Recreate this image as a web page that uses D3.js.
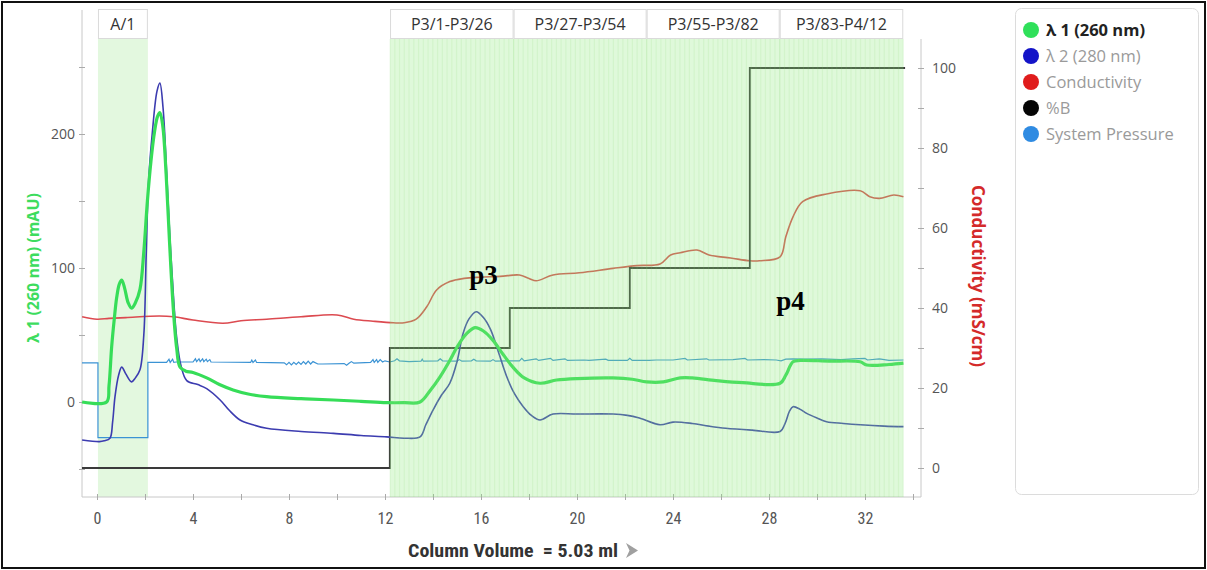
<!DOCTYPE html>
<html>
<head>
<meta charset="utf-8">
<script src="https://cdn.jsdelivr.net/npm/d3@7"></script>
<style>
  html, body { margin: 0; padding: 0; background: #fff; }
  svg { display: block; }
</style>
</head>
<body>
<script>
// ---------- data ----------
// Fraction groups collected during the run (column volumes)
const fractionLabels = ["A/1", "P3/1-P3/26", "P3/27-P3/54", "P3/55-P3/82", "P3/83-P4/12"];
const fractionStart  = [0.04, 12.21, 17.358, 22.902, 28.446];
const fractionEnd    = [2.12, 17.358, 22.902, 28.446, 33.594];
const fractionCount  = [1, 26, 28, 28, 26];

// Axis ticks
const uvTicks   = [-50, 0, 50, 100, 150, 200, 250];
const condTicks = [0, 10, 20, 30, 40, 50, 60, 70, 80, 90, 100];
const cvTicks   = [0, 2, 4, 6, 8, 10, 12, 14, 16, 18, 20, 22, 24, 26, 28, 30, 32, 34];

// λ1 (260 nm), mAU
const uv260 = [
  [-0.62, 0], [0.4, 0], [0.5, 12], [0.61, 41], [0.72, 62], [0.82, 78], [0.93, 88], [1.03, 91],
  [1.15, 85], [1.3, 74], [1.44, 70], [1.6, 74], [1.79, 84], [1.95, 112], [2.1, 150], [2.25, 180],
  [2.4, 202], [2.52, 213], [2.62, 216], [2.74, 206], [2.88, 170], [3.02, 120], [3.17, 72],
  [3.32, 40], [3.46, 26], [3.7, 23], [4.0, 22], [4.57, 18], [5.1, 13], [5.67, 9], [6.3, 6],
  [7.07, 4], [8.5, 2.5], [9.85, 1.5], [11.0, 0.5], [12.07, -0.5], [12.8, -0.5], [13.46, 0],
  [13.9, 9], [14.3, 19], [14.7, 31], [15.0, 41], [15.4, 51], [15.75, 55.5], [16.1, 53],
  [16.5, 46], [16.9, 36], [17.33, 26], [17.8, 18], [18.46, 14], [19.15, 16.4], [20.0, 17.5],
  [21.5, 18], [22.3, 17], [22.9, 15], [23.6, 15], [24.3, 18], [24.8, 18], [25.8, 16],
  [26.9, 14.4], [28.46, 14], [28.7, 20], [29.0, 30], [29.3, 31], [30.5, 30.5], [31.8, 30],
  [32.07, 27.6], [33.0, 28], [33.6, 29]
];

// λ2 (280 nm), mAU
const uv280 = [
  [-0.62, -28.4], [0.1, -29.6], [0.3, -29], [0.54, -27], [0.65, -15], [0.75, 4], [0.9, 20],
  [1.03, 26], [1.2, 21], [1.44, 15], [1.6, 18], [1.79, 24], [1.95, 50], [2.05, 110], [2.15, 165],
  [2.3, 200], [2.5, 232], [2.62, 238], [2.75, 220], [2.9, 172], [3.04, 122], [3.2, 75],
  [3.32, 48], [3.5, 27], [3.74, 16], [4.2, 13], [4.57, 10], [5.13, 1.5], [5.5, -6],
  [5.96, -13.4], [6.5, -17], [7.07, -19.6], [8.5, -22], [9.85, -23.4], [11.0, -25],
  [12.07, -26], [12.8, -27], [13.46, -26], [13.7, -17], [14.0, -6], [14.35, 5], [14.7, 14],
  [15.0, 30], [15.25, 51], [15.5, 62], [15.8, 67.4], [16.1, 63], [16.4, 54], [16.75, 36],
  [17.07, 19], [17.4, 6], [17.76, -3.5], [18.1, -10], [18.46, -13.4], [19.0, -9], [20.0, -9],
  [21.5, -9], [22.1, -10], [22.6, -12], [23.46, -17], [24.0, -15], [24.8, -16], [25.5, -18],
  [26.2, -19.6], [27.3, -21], [28.46, -22], [28.67, -16], [28.85, -7], [29.0, -3.5],
  [29.3, -5.5], [29.57, -8.5], [30.0, -12], [30.4, -14.7], [31.1, -16], [31.8, -17],
  [32.8, -18], [33.6, -18.4]
];

// Conductivity, mS/cm
const conductivity = [
  [-0.62, 37.8], [0.0, 37.2], [0.5, 37.4], [1.2, 37.6], [2.6, 38], [3.2, 37.8], [4.0, 37],
  [5.25, 36.2], [6.0, 36.8], [7.07, 37.2], [8.5, 37.8], [10.0, 38.25], [10.7, 37.2],
  [11.5, 36.7], [12.35, 36.3], [12.8, 36.3], [13.3, 37.2], [13.74, 40.3], [14.15, 44.5],
  [14.7, 46.6], [15.3, 47.4], [15.96, 47.7], [16.8, 47.9], [17.6, 48.25], [18.0, 47.4],
  [18.3, 46.8], [19.0, 48.25], [20.1, 48.8], [21.5, 49.9], [22.5, 50.6], [23.46, 51],
  [23.9, 53.25], [24.3, 53.8], [25.0, 54.5], [25.5, 53.25], [26.4, 52.5], [27.2, 51.8],
  [27.6, 51.8], [28.46, 52.8], [28.7, 57.8], [29.0, 62.8], [29.4, 66.6], [30.4, 68.5],
  [31.8, 69.3], [32.2, 67.8], [32.6, 67.4], [33.2, 68.25], [33.6, 67.8]
];

// %B gradient steps (value holds until the next point)
const percentB = [[-0.625, 0], [12.2, 30], [17.2, 40], [22.2, 50], [27.2, 100], [33.67, 100]];

// System pressure (drawn on the right-hand scale)
const pressure = [
  [-0.625, 26.3], [0.04, 26.3], [0.04, 7.6], [2.12, 7.6], [2.12, 26.4],
  [2.9, 26.4], [3.0, 27.2], [3.05, 26.4], [3.15, 27.2], [3.2, 26.4], [3.3, 26.5],
  [4.0, 26.5], [4.1, 27.3], [4.15, 26.6], [4.25, 27.3], [4.3, 26.6], [4.4, 27.3], [4.45, 26.6],
  [4.55, 27.2], [4.6, 26.6], [4.7, 27.1], [4.75, 26.5],
  [6.4, 26.4], [6.45, 27.0], [6.5, 26.4], [6.6, 27.0], [6.65, 26.4],
  [7.8, 26.3], [7.9, 25.8], [8.0, 26.4], [8.1, 25.8], [8.2, 26.4], [8.3, 25.9], [8.4, 26.5],
  [8.5, 25.9], [8.6, 26.6], [8.7, 26.0], [8.8, 26.7], [8.9, 26.0], [9.0, 26.6], [9.2, 26.0],
  [9.4, 26.0], [10.3, 26.1], [10.4, 25.7], [10.5, 26.2], [10.6, 26.6], [10.7, 26.2],
  [11.4, 26.4], [11.5, 27.1], [11.55, 26.4], [11.65, 27.1], [11.7, 26.4], [11.8, 27.1],
  [11.9, 26.5], [12.0, 26.8], [12.2, 26.5], [12.4, 26.8], [12.5, 27.3], [12.6, 26.8],
  [13.0, 26.6], [13.5, 26.7], [13.55, 27.2], [13.6, 26.7], [14.2, 26.8], [14.3, 27.3],
  [14.4, 26.8], [15.0, 26.7], [15.1, 27.1], [15.2, 26.7], [15.6, 26.8], [15.7, 27.2],
  [15.8, 26.8], [16.4, 26.7], [16.5, 27.1], [16.6, 26.7], [17.1, 26.8], [17.6, 26.8],
  [17.7, 27.4], [17.8, 26.8], [18.3, 27.3], [18.4, 26.9], [18.9, 27.4], [19.0, 26.9],
  [19.5, 27.3], [19.6, 26.9], [20.3, 27.0], [20.5, 26.9], [21.2, 27.2], [21.3, 26.9],
  [22.1, 26.9], [22.2, 27.4], [22.3, 26.9], [23.0, 26.9], [23.3, 27.0], [24.0, 27.0],
  [24.5, 27.4], [24.6, 27.0], [25.4, 27.3], [25.5, 27.0], [26.5, 27.1], [27.0, 27.4],
  [27.1, 27.0], [27.8, 27.1], [28.3, 27.0], [28.5, 26.8], [28.7, 27.2], [29.0, 27.3],
  [29.5, 27.2], [30.2, 27.3], [31.0, 27.1], [31.5, 27.3], [32.0, 27.4], [32.1, 27.0],
  [32.6, 27.3], [33.0, 26.9], [33.6, 27.0]
];

// Peak annotations: [label, column volume, level on the conductivity scale]
const peakNotes = [["p3", 16.1, 46], ["p4", 28.9, 39.5]];

// Legend entries
const legendNames  = ["λ 1 (260 nm)", "λ 2 (280 nm)", "Conductivity", "%B", "System Pressure"];
const legendColors = ["#2fe05a", "#1414c8", "#e01c1c", "#050505", "#2f8be2"];

// ---------- layout ----------
const W = 1207, H = 570;
const L = 82, R = 921, T = 39, B = 497;

const x     = d3.scaleLinear().domain([-0.625, 34.333]).range([L, R]);
const yUV   = d3.scaleLinear().domain([-70.9, 270.9]).range([B, T]);
const yCond = d3.scaleLinear().domain([-7.25, 107.25]).range([B, T]);

const svg = d3.select("body").append("svg").attr("width", W).attr("height", H);
svg.append("rect").attr("width", W).attr("height", H).attr("fill", "#fff");

const labelFont = "'Open Sans', 'Noto Sans', sans-serif";
const narrowFont = "'Liberation Sans Narrow', 'Roboto Condensed', 'DejaVu Sans Condensed', 'Roboto', sans-serif";

// Fraction A/1 shading (behind the curves)
svg.append("rect")
  .attr("x", x(fractionStart[0])).attr("y", T)
  .attr("width", x(fractionEnd[0]) - x(fractionStart[0])).attr("height", B - T)
  .attr("fill", "#e3f8df");

// Fraction header boxes
const header = svg.append("g");
fractionLabels.forEach((lab, i) => {
  const x0 = x(fractionStart[i]), x1 = x(fractionEnd[i]);
  header.append("rect").attr("x", x0 + 0.5).attr("y", 9.5)
    .attr("width", x1 - x0 - 1).attr("height", 29)
    .attr("fill", "#fff").attr("stroke", "#dadada");
  header.append("text").attr("x", (x0 + x1) / 2).attr("y", 30)
    .attr("text-anchor", "middle").attr("font-family", labelFont)
    .attr("font-size", 16).attr("fill", "#333").text(lab);
});

// Axes
const axisColor = "#c8c8c8", tickText = "#555";

const gLeft = svg.append("g").attr("transform", `translate(${L},0)`)
  .call(d3.axisLeft(yUV).tickValues(uvTicks).tickSize(0).tickPadding(7)
    .tickFormat(d => d % 100 === 0 ? d : ""));
gLeft.select(".domain").attr("stroke", axisColor).attr("d", `M0,10V${B}`);
gLeft.selectAll(".tick line").attr("x1", -3).attr("x2", 3).attr("stroke", "#aaa");
gLeft.selectAll(".tick text").attr("fill", tickText).attr("font-size", 14).attr("font-family", labelFont);

const gRight = svg.append("g").attr("transform", `translate(${R},0)`)
  .call(d3.axisRight(yCond).tickValues(condTicks).tickSize(0).tickPadding(11)
    .tickFormat(d => d % 20 === 0 ? d : ""));
gRight.select(".domain").attr("stroke", axisColor).attr("d", `M0,${T}V${B}`);
gRight.selectAll(".tick line").attr("x1", -3).attr("x2", 3).attr("stroke", "#aaa");
gRight.selectAll(".tick text").attr("fill", tickText).attr("font-size", 14).attr("font-family", labelFont);

const gBottom = svg.append("g").attr("transform", `translate(0,${B})`)
  .call(d3.axisBottom(x).tickValues(cvTicks.filter(d => d <= 34)).tickSize(0).tickPadding(16)
    .tickFormat(d => d % 4 === 0 && d <= 32 ? d : ""));
gBottom.select(".domain").attr("stroke", axisColor).attr("d", `M${L},0H${R}`);
gBottom.selectAll(".tick line").attr("y1", -3).attr("y2", 3).attr("stroke", "#aaa");
gBottom.selectAll(".tick text").attr("fill", tickText).attr("font-size", 16)
  .attr("font-family", narrowFont).style("font-stretch", "condensed");

// Axis titles
svg.append("text")
  .attr("transform", `translate(39,${(T + B) / 2}) rotate(-90)`)
  .attr("text-anchor", "middle").attr("font-family", labelFont).attr("font-weight", "bold")
  .attr("font-size", 16).attr("fill", "#3ddc5e").text("λ 1 (260 nm) (mAU)");

svg.append("text")
  .attr("transform", `translate(972,${(T + B) / 2 + 8}) rotate(90)`)
  .attr("text-anchor", "middle").attr("font-family", labelFont).attr("font-weight", "bold")
  .attr("font-size", 17).attr("fill", "#d42a2a").text("Conductivity (mS/cm)");

const xTitle = svg.append("g").attr("transform", "translate(513,557)");
xTitle.append("text").attr("text-anchor", "middle")
  .attr("font-family", narrowFont).style("font-stretch", "condensed").style("white-space", "pre")
  .attr("font-weight", "bold").attr("font-size", 18).attr("fill", "#333")
  .attr("textLength", 210).attr("lengthAdjust", "spacingAndGlyphs")
  .text("Column Volume  = 5.03 ml");
xTitle.append("path").attr("d", "M113,-14 L125,-6.5 L113,1 L116.5,-6.5 Z").attr("fill", "#a0a0a0");

// Curves
const lineOf = (ys, curve) => d3.line().x(d => x(d[0])).y(d => ys(d[1])).curve(curve);
const plot = svg.append("g");

plot.append("path").datum(conductivity)
  .attr("d", lineOf(yCond, d3.curveCatmullRom.alpha(0.5)))
  .attr("fill", "none").attr("stroke", "#dc4a50").attr("stroke-width", 1.6);

plot.append("path").datum(pressure)
  .attr("d", lineOf(yCond, d3.curveLinear))
  .attr("fill", "none").attr("stroke", "#3b93d4").attr("stroke-width", 1.2);

plot.append("path").datum(percentB)
  .attr("d", lineOf(yCond, d3.curveStepAfter))
  .attr("fill", "none").attr("stroke", "#3a3a3a").attr("stroke-width", 1.8);

plot.append("path").datum(uv280)
  .attr("d", lineOf(yUV, d3.curveCatmullRom.alpha(0.5)))
  .attr("fill", "none").attr("stroke", "#3c3cb0").attr("stroke-width", 1.6);

plot.append("path").datum(uv260)
  .attr("d", lineOf(yUV, d3.curveCatmullRom.alpha(0.5)))
  .attr("fill", "none").attr("stroke", "#36dd58").attr("stroke-width", 3.2);

// Collected plate fractions: translucent striped band over the curves
const stripes = svg.append("g");
for (let i = 1; i < fractionLabels.length; i++) {
  const n = fractionCount[i];
  const step = (fractionEnd[i] - fractionStart[i]) / n;
  const cuts = d3.range(n + 1).map(k => fractionStart[i] + k * step);
  stripes.append("rect")
    .attr("x", x(fractionStart[i])).attr("y", T)
    .attr("width", x(fractionEnd[i]) - x(fractionStart[i])).attr("height", B - T)
    .attr("fill", "rgb(140,232,122)").attr("fill-opacity", 0.28);
  stripes.selectAll(null).data(cuts).enter().append("line")
    .attr("x1", d => x(d)).attr("x2", d => x(d)).attr("y1", T).attr("y2", B)
    .attr("stroke", "rgb(130,215,110)").attr("stroke-opacity", 0.13).attr("stroke-width", 1.2);
}

// Peak labels
svg.selectAll(null).data(peakNotes).enter().append("text")
  .attr("x", d => x(d[1])).attr("y", d => yCond(d[2]))
  .attr("text-anchor", "middle").attr("font-family", "'Liberation Serif', 'DejaVu Serif', serif")
  .attr("font-weight", "bold").attr("font-size", 27).attr("fill", "#000")
  .text(d => d[0]);

// Legend
svg.append("rect").attr("x", 1015.5).attr("y", 8.5).attr("width", 183).attr("height", 486)
  .attr("rx", 6).attr("fill", "#fff").attr("stroke", "#dcdcdc");
const leg = svg.append("g").selectAll("g").data(legendNames).enter().append("g")
  .attr("transform", (d, i) => `translate(1031,${30 + i * 26})`);
leg.append("circle").attr("r", 8).attr("fill", (d, i) => legendColors[i]);
leg.append("text").attr("x", 15).attr("y", 6)
  .attr("font-family", labelFont).attr("font-size", 16.5)
  .attr("font-weight", (d, i) => i === 0 ? "bold" : "normal")
  .attr("fill", (d, i) => i === 0 ? "#222" : "#9a9a9a")
  .text(d => d);

// Outer frame
svg.append("rect").attr("x", 2).attr("y", 2).attr("width", W - 4).attr("height", H - 4)
  .attr("fill", "none").attr("stroke", "#111").attr("stroke-width", 2);
</script>
</body>
</html>
